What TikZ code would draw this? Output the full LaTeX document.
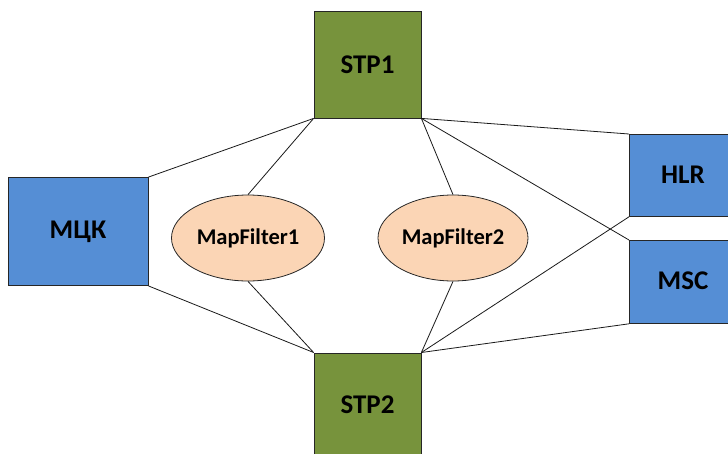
\documentclass[tikz,border=0pt]{standalone}
\usepackage{fontspec}
\setmainfont{Carlito}
\usetikzlibrary{shapes.geometric}
\definecolor{stpgreen}{RGB}{119,147,60}
\definecolor{boxblue}{RGB}{85,142,213}
\definecolor{peach}{RGB}{251,213,181}
\tikzset{
  bigtext/.style={font=\fontsize{27}{31}\selectfont\bfseries},
  stpbox/.style={draw=black!85, line width=0.8pt, fill=stpgreen, minimum width=107pt, minimum height=107pt, inner sep=0pt, bigtext},
  bluebox/.style={draw=black!85, line width=0.8pt, fill=boxblue, inner sep=0pt, bigtext},
  filt/.style={ellipse, draw=black!85, line width=0.8pt, fill=peach, minimum width=153pt, minimum height=86pt, inner sep=0pt, font=\fontsize{22.5}{27}\selectfont\bfseries},
  link/.style={draw=black!90, line width=0.8pt}
}
\begin{document}
\begin{tikzpicture}[x=1pt,y=-1pt]
\useasboundingbox (0,0) rectangle (728,453);
\clip (0,0) rectangle (728,453);
\node[stpbox] (stp1) at (367.5,64.5) {STP1};
\node[stpbox, minimum height=120pt, anchor=north] (stp2box) at (367.5,352.5) {};
\node[bigtext] (stp2) at (367.5,405) {STP2};
\node[bluebox, minimum width=140pt, minimum height=108pt] (mck) at (78,231.5) {МЦК};
\node[bluebox, minimum width=110pt, minimum height=82pt, anchor=north west] (hlr) at (629,134) {};
\node[bigtext] (hlrt) at (683,175) {HLR};
\node[bluebox, minimum width=110pt, minimum height=83pt, anchor=north west] (msc) at (629,240) {};
\node[bigtext] (msct) at (683,281) {MSC};
\node[filt] (mf1) at (248,238) {MapFilter1};
\node[filt, minimum width=150pt] (mf2) at (453,238) {MapFilter2};
\draw[link] (stp1.south west) -- (mck.north east);
\draw[link] (mck.south east) -- (stp2box.north west);
\draw[link] (stp1.south west) -- (mf1.north);
\draw[link] (mf1.south) -- (stp2box.north west);
\draw[link] (stp1.south east) -- (mf2.north);
\draw[link] (mf2.south) -- (stp2box.north east);
\draw[link] (stp1.south east) -- (hlr.north west);
\draw[link] (stp1.south east) -- (msc.north west);
\draw[link] (stp2box.north east) -- (hlr.south west);
\draw[link] (stp2box.north east) -- (msc.south west);
\end{tikzpicture}
\end{document}
